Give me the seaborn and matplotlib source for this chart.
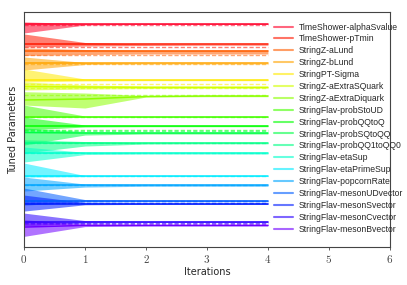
import numpy as np
import pandas as pd
import seaborn as sns
import matplotlib.pyplot as plt
from matplotlib.lines import Line2D

# Datos (unidades arbitrarias del eje vertical)
iteraciones = [0, 1, 2, 3, 4]

parametros = [
    "TimeShower-alphaSvalue", "TimeShower-pTmin", "StringZ-aLund", "StringZ-bLund",
    "StringPT-Sigma", "StringZ-aExtraSQuark", "StringZ-aExtraDiquark",
    "StringFlav-probStoUD", "StringFlav-probQQtoQ", "StringFlav-probSQtoQQ",
    "StringFlav-probQQ1toQQ0", "StringFlav-etaSup", "StringFlav-etaPrimeSup",
    "StringFlav-popcornRate", "StringFlav-mesonUDvector", "StringFlav-mesonSvector",
    "StringFlav-mesonCvector", "StringFlav-mesonBvector",
]

centro = [
    [223, 223, 223, 223, 223],
    [202.5, 202.5, 202.5, 202.5, 202.5],
    [195.5, 195.5, 195.5, 195.5, 195.5],
    [183.5, 183.5, 183.5, 183.5, 183.5],
    [167, 167, 167, 167, 167],
    [160.5, 160, 159.7, 159.7, 159.7],
    [147, 148, 150.5, 151, 151],
    [130.3, 130.3, 130.3, 130.3, 130.3],
    [121, 121, 121, 121, 121],
    [114.5, 114, 114, 114, 114],
    [103.7, 103.7, 103.7, 103.7, 103.7],
    [93.7, 93.7, 93.7, 93.7, 93.7],
    [71, 71, 71, 71, 71],
    [61.7, 61.7, 61.7, 61.7, 61.7],
    [46, 46, 46, 46, 46],
    [43.3, 43.3, 43.3, 43.3, 43.3],
    [25.5, 25.5, 25.5, 25.5, 25.5],
    [20, 21.7, 21.7, 21.7, 21.7],
]

inferior = [
    [214, 222, 222.5, 222.5, 222.5],
    [200, 201, 201.5, 201.8, 201.8],
    [191.5, 192.5, 193, 193, 193],
    [177, 182.5, 183, 183, 183],
    [165, 166, 166.3, 166.3, 166.3],
    [157, 158, 158.5, 158.7, 158.7],
    [142, 139, 150, 150.3, 150.3],
    [129.5, 129.8, 129.8, 129.8, 129.8],
    [117, 120, 120.3, 120.3, 120.3],
    [102, 112, 113, 113, 113],
    [94, 101, 103, 103.2, 103.2],
    [85, 92.5, 93, 93, 93],
    [70, 70.4, 70.5, 70.5, 70.5],
    [56, 60, 60.8, 60.8, 60.8],
    [42, 45, 45.3, 45.3, 45.3],
    [36, 42.3, 42.7, 42.7, 42.7],
    [21, 24, 24.5, 24.5, 24.5],
    [10.7, 20.5, 21, 21, 21],
]

superior = [
    [225, 223.5, 223.5, 223.5, 223.5],
    [213, 204.5, 203, 203, 203],
    [199, 197.5, 197, 197, 197],
    [190, 184.5, 184, 184, 184],
    [178, 168, 167.5, 167.5, 167.5],
    [165, 162, 161, 160.7, 160.7],
    [155.3, 154, 151.5, 151.7, 151.7],
    [142, 131, 130.8, 130.8, 130.8],
    [130, 122, 121.7, 121.7, 121.7],
    [119, 115.5, 115, 115, 115],
    [107.3, 105.5, 104.3, 104.2, 104.2],
    [100, 94.7, 94.3, 94.3, 94.3],
    [84, 71.5, 71.4, 71.4, 71.4],
    [70, 63, 62.5, 62.5, 62.5],
    [59, 47.5, 47, 47, 47],
    [52, 44.5, 44, 44, 44],
    [34, 26.5, 26, 26, 26],
    [27.3, 23, 22.5, 22.5, 22.5],
]

# valor objetivo (linea discontinua)
objetivo = [222.2, 200.3, 192.3, 183, 163, 159.5, 152, 130, 117.2, 116,
            104, 94, 71, 62, 46.5, 44.5, 24.5, 23]

# tabla larga para seaborn
filas = []
for nombre, valores in zip(parametros, centro):
    for it, v in zip(iteraciones, valores):
        filas.append({"parametro": nombre, "iteracion": it, "valor": v})
df = pd.DataFrame(filas)

sns.set_style("ticks")
plt.rcParams["mathtext.fontset"] = "cm"
plt.rcParams["font.family"] = ["DejaVu Sans"]

colores = plt.cm.gist_rainbow(np.linspace(0, 0.85, len(parametros)))

fig = plt.figure(figsize=(4.07, 2.85), dpi=100)
ax = fig.add_axes([0.059, 0.133, 0.899, 0.825])

for i in range(len(parametros)):
    ax.fill_between(iteraciones, inferior[i], superior[i], color=colores[i],
                    alpha=0.55, linewidth=0)
    ax.plot([iteraciones[0], iteraciones[-1]], [objetivo[i], objetivo[i]],
            color=colores[i], alpha=0.55, lw=1.0, ls=(0, (3, 1.5)))

sns.lineplot(data=df, x="iteracion", y="valor", hue="parametro",
             palette=list(colores), hue_order=parametros, lw=1.1,
             legend=False, ax=ax)

ax.set_xlim(0, 6)
ax.set_ylim(0, 235)
ax.set_yticks([])
ax.set_xticks(range(7))
ax.set_xticklabels([f"${k}$" for k in range(7)], fontsize=8)
ax.tick_params(axis="x", length=2.5, width=0.6, pad=2, colors="#444444")
for s in ax.spines.values():
    s.set_color("#444444")
    s.set_linewidth(0.8)

ax.set_xlabel("Iterations", fontsize=7, labelpad=1)
ax.set_ylabel("Tuned Parameters", fontsize=7, labelpad=4)

# leyenda sin marco, a la derecha de las curvas
manijas = [Line2D([0], [0], color=c, alpha=0.6, lw=1.5) for c in colores]
leg = ax.legend(manijas, parametros, loc="upper left",
                bbox_to_anchor=(0.683, 0.955),
                prop={"family": "Liberation Sans", "size": 6.2},
                labelspacing=0.335, handlelength=2.2, handletextpad=0.7,
                borderaxespad=0.0, borderpad=0.0, frameon=False)

plt.savefig("out.png", dpi=100)
plt.close()
